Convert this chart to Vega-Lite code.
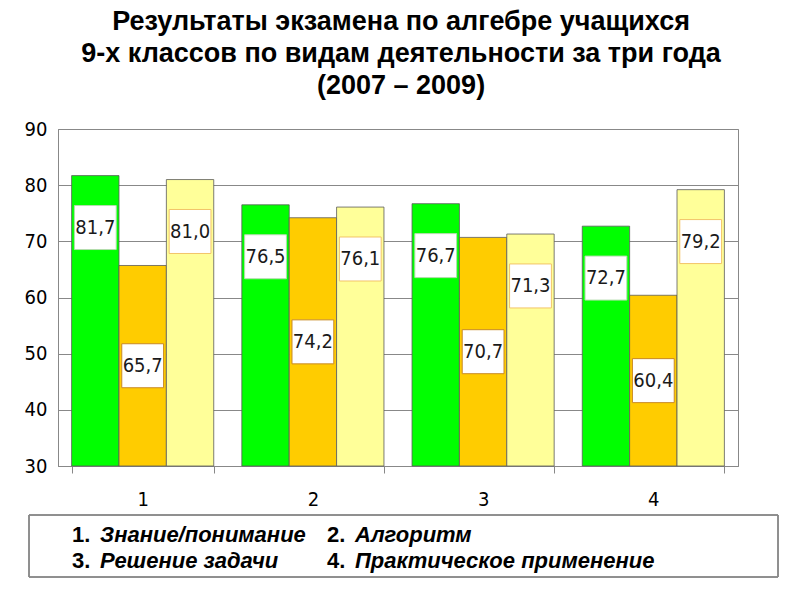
{
  "$schema": "https://vega.github.io/schema/vega-lite/v6.json",
  "background": "white",
  "padding": {"left": 23, "top": 7, "right": 5, "bottom": 5},
  "spacing": 4,
  "title": {
    "text": ["Результаты экзамена по алгебре учащихся", "9-х классов по видам деятельности за три года", "(2007 – 2009)"],
    "font": "Liberation Sans",
    "fontSize": 27,
    "fontWeight": "bold",
    "lineHeight": 32,
    "anchor": "middle",
    "color": "#000000",
    "offset": 19
  },
  "config": {
    "view": {"stroke": "#888888", "strokeWidth": 1}
  },
  "vconcat": [
    {
      "width": 680,
      "height": 337,
      "data": {
        "values": [
          {"cat": "1", "series": "2007", "value": 81.7, "label": "81,7"},
          {"cat": "1", "series": "2008", "value": 65.7, "label": "65,7"},
          {"cat": "1", "series": "2009", "value": 81.0, "label": "81,0"},
          {"cat": "2", "series": "2007", "value": 76.5, "label": "76,5"},
          {"cat": "2", "series": "2008", "value": 74.2, "label": "74,2"},
          {"cat": "2", "series": "2009", "value": 76.1, "label": "76,1"},
          {"cat": "3", "series": "2007", "value": 76.7, "label": "76,7"},
          {"cat": "3", "series": "2008", "value": 70.7, "label": "70,7"},
          {"cat": "3", "series": "2009", "value": 71.3, "label": "71,3"},
          {"cat": "4", "series": "2007", "value": 72.7, "label": "72,7"},
          {"cat": "4", "series": "2008", "value": 60.4, "label": "60,4"},
          {"cat": "4", "series": "2009", "value": 79.2, "label": "79,2"}
        ]
      },
      "encoding": {
        "x": {
          "field": "cat",
          "type": "nominal",
          "scale": {"paddingInner": 0.165, "paddingOuter": 0.08},
          "axis": {
            "title": null,
            "labelAngle": 0,
            "labelFont": "DejaVu Sans Condensed, Liberation Sans Narrow, sans-serif",
            "labelFontSize": 20,
            "labelColor": "#000000",
            "labelPadding": 16,
            "domainColor": "#888888",
            "tickColor": "#888888",
            "tickSize": 7,
            "tickBand": "extent"
          }
        },
        "xOffset": {
          "field": "series",
          "type": "nominal",
          "scale": {"paddingInner": 0, "paddingOuter": 0}
        }
      },
      "layer": [
        {
          "encoding": {
            "y": {
              "field": "value",
              "type": "quantitative",
              "scale": {"domain": [30, 90], "nice": false, "zero": false},
              "axis": {
                "title": null,
                "values": [30, 40, 50, 60, 70, 80, 90],
                "labelFont": "DejaVu Sans Condensed, Liberation Sans Narrow, sans-serif",
                "labelFontSize": 20,
                "labelColor": "#000000",
                "labelPadding": 11,
                "ticks": false,
                "domainColor": "#888888",
                "gridColor": "#888888",
                "gridOpacity": 1
              }
            }
          },
          "layer": [
            {
              "mark": {"type": "bar", "stroke": "#5a5a5a", "strokeWidth": 0.8},
              "encoding": {
                "y2": {"datum": 30},
                "color": {
                  "field": "series",
                  "type": "nominal",
                  "scale": {"domain": ["2007", "2008", "2009"], "range": ["#00ff00", "#ffcc00", "#ffff99"]},
                  "legend": null
                }
              }
            },
            {
              "transform": [{"filter": "datum.series != '2008'"}],
              "mark": {
                "type": "point",
                "shape": "M-0.95,1.36L0.95,1.36L0.95,3.36L-0.95,3.36Z",
                "size": 1936,
                "filled": false,
                "fill": "#ffffff",
                "fillOpacity": 1,
                "opacity": 1,
                "strokeWidth": 1
              },
              "encoding": {
                "stroke": {
                  "field": "series",
                  "type": "nominal",
                  "scale": {"domain": ["2007", "2008", "2009"], "range": ["#b5dcae", "#c88a24", "#f2c468"]},
                  "legend": null
                }
              }
            },
            {
              "transform": [{"filter": "datum.series != '2008'"}],
              "mark": {
                "type": "text",
                "dy": 52,
                "baseline": "middle",
                "font": "DejaVu Sans Condensed, Liberation Sans Narrow, sans-serif",
                "fontSize": 20,
                "color": "#1a1a1a"
              },
              "encoding": {"text": {"field": "label"}}
            }
          ]
        },
        {
          "transform": [{"filter": "datum.series == '2008'"}],
          "encoding": {
            "y": {
              "field": "value",
              "type": "quantitative",
              "scale": {"domain": [30, 150], "nice": false, "zero": false},
              "axis": null
            }
          },
          "layer": [
            {
              "mark": {
                "type": "point",
                "shape": "M-0.95,-1L0.95,-1L0.95,1L-0.95,1Z",
                "size": 1936,
                "filled": false,
                "fill": "#ffffff",
                "fillOpacity": 1,
                "opacity": 1,
                "stroke": "#c88a24",
                "strokeWidth": 1
              }
            },
            {
              "mark": {
                "type": "text",
                "baseline": "middle",
                "font": "DejaVu Sans Condensed, Liberation Sans Narrow, sans-serif",
                "fontSize": 20,
                "color": "#1a1a1a"
              },
              "encoding": {"text": {"field": "label"}}
            }
          ]
        }
      ],
      "resolve": {"scale": {"y": "independent"}}
    },
    {
      "width": 720,
      "height": 62,
      "view": {"stroke": null},
      "data": {
        "values": [
          {"num": "1.", "text": "Знание/понимание", "col": 0, "row": 0},
          {"num": "2.", "text": "Алгоритм", "col": 1, "row": 0},
          {"num": "3.", "text": "Решение задачи", "col": 0, "row": 1},
          {"num": "4.", "text": "Практическое применение", "col": 1, "row": 1}
        ]
      },
      "layer": [
        {
          "mark": {"type": "rect", "fill": null, "stroke": "#888888", "strokeWidth": 1, "clip": false},
          "encoding": {
            "x": {"datum": -0.1686, "type": "quantitative", "scale": {"domain": [-0.0549, 2.7686], "nice": false, "zero": false}, "axis": null},
            "x2": {"datum": 2.7686},
            "y": {"datum": -1.038, "type": "quantitative", "scale": {"domain": [-1.038, 1.346], "nice": false, "zero": false, "reverse": true}, "axis": null},
            "y2": {"datum": 1.346}
          }
        },
        {
          "mark": {
            "type": "text",
            "align": "left",
            "baseline": "alphabetic",
            "font": "Liberation Sans",
            "fontSize": 22,
            "fontWeight": "bold",
            "color": "#000000"
          },
          "encoding": {
            "x": {"field": "col", "type": "quantitative"},
            "y": {"field": "row", "type": "quantitative"},
            "text": {"field": "num"}
          }
        },
        {
          "mark": {
            "type": "text",
            "align": "left",
            "baseline": "alphabetic",
            "dx": 28,
            "font": "Liberation Sans",
            "fontSize": 22,
            "fontWeight": "bold",
            "fontStyle": "italic",
            "color": "#000000"
          },
          "encoding": {
            "x": {"field": "col", "type": "quantitative"},
            "y": {"field": "row", "type": "quantitative"},
            "text": {"field": "text"}
          }
        }
      ]
    }
  ]
}
